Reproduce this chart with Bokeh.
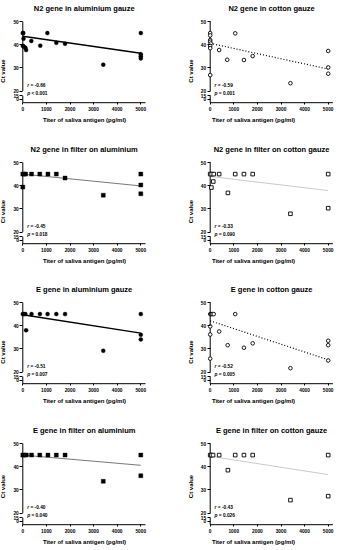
from bokeh.plotting import figure
from bokeh.layouts import column, row
from bokeh.models import FixedTicker
from bokeh.core.properties import value
from bokeh.embed import file_html
from bokeh.resources import INLINE

# ---------------- data ----------------
titles = [
    "N2 gene in aluminium gauze", "N2 gene in cotton gauze",
    "N2 gene in filter on aluminium", "N2 gene in filter on cotton gauze",
    "E gene in aluminium gauze", "E gene in cotton gauze",
    "E gene in filter on aluminium", "E gene in filter on cotton gauze",
]
r_values = ["-0.66", "-0.59", "-0.45", "-0.33", "-0.51", "-0.52", "-0.40", "-0.43"]
p_texts = ["< 0.001", "= 0.001", "= 0.018", "= 0.090", "= 0.007", "= 0.005", "= 0.040", "= 0.026"]

x_n2_alu = [0, 20, 0, 30, 40, 110, 140, 360, 740, 1040, 1420, 1790, 3410, 5000, 5000, 5000, 5000]
ct_n2_alu = [45, 45, 39.5, 42.6, 39.2, 38.7, 37.7, 41.6, 39.6, 45, 40.8, 40.4, 31.4, 45, 35.9, 35.0, 34.1]

x_n2_cot = [0, 0, 0, 0, 20, 0, 0, 0, 380, 720, 1060, 1430, 1800, 3400, 5000, 5000, 5000]
ct_n2_cot = [45, 44, 42, 41.3, 40.5, 39.5, 38.5, 26.9, 37.7, 33.5, 44.9, 33.4, 35.1, 23.4, 37.3, 30.2, 27.5]

x_n2_falu = [0, 60, 120, 0, 370, 720, 1065, 1420, 1790, 3410, 5000, 5000, 5000]
ct_n2_falu = [45, 45, 45, 39.4, 45, 45, 45, 45, 43.3, 35.9, 45, 40.3, 36.5]

x_n2_fcot = [0, 60, 150, 130, 50, 380, 750, 1060, 1430, 1800, 3400, 5000, 5000]
ct_n2_fcot = [45, 45, 45, 41.8, 39.2, 45, 36.9, 45, 45, 45, 27.9, 45, 30.3]

x_e_alu = [0, 40, 110, 140, 370, 725, 1050, 1420, 1790, 3410, 5000, 5000, 5000]
ct_e_alu = [45, 45, 45, 38.0, 45, 45, 45, 45, 45, 29.2, 45, 36.1, 34.1]

x_e_cot = [0, 40, 90, 150, 0, 0, 0, 380, 740, 1060, 1430, 1800, 3400, 5000, 5000, 5000]
ct_e_cot = [45, 45, 45, 45, 39.7, 36.2, 25.8, 37.5, 31.6, 45, 30.5, 32.4, 21.7, 33.5, 31.6, 25.0]

x_e_falu = [0, 60, 150, 370, 720, 1065, 1420, 1790, 3410, 5000, 5000]
ct_e_falu = [45, 45, 45, 45, 45, 45, 45, 45, 33.7, 45, 36.1]

x_e_fcot = [0, 50, 120, 380, 750, 1060, 1430, 1800, 3400, 5000, 5000]
ct_e_fcot = [45, 45, 45, 45, 38.5, 45, 45, 45, 25.6, 45, 27.3]

# regression lines (end points)
fit_x = [0, 5000]
fit_n2_alu = [43.6, 36.3]
fit_n2_cot = [40.6, 29.5]
fit_n2_falu = [45.0, 39.9]
fit_n2_fcot = [44.0, 37.9]
fit_e_alu = [44.7, 36.8]
fit_e_cot = [42.1, 25.3]
fit_e_falu = [45.0, 40.6]
fit_e_fcot = [44.5, 36.6]

x_ticks = [0, 1000, 2000, 3000, 4000, 5000]
x_axis_end = 5200
y_ticks = [0, 15, 20, 30, 40, 50]

panels = [
    (x_n2_alu, ct_n2_alu, fit_n2_alu),
    (x_n2_cot, ct_n2_cot, fit_n2_cot),
    (x_n2_falu, ct_n2_falu, fit_n2_falu),
    (x_n2_fcot, ct_n2_fcot, fit_n2_fcot),
    (x_e_alu, ct_e_alu, fit_e_alu),
    (x_e_cot, ct_e_cot, fit_e_cot),
    (x_e_falu, ct_e_falu, fit_e_falu),
    (x_e_fcot, ct_e_fcot, fit_e_fcot),
]

# ---------------- layout / styling ----------------
FONT = "Liberation Sans"
PX_PER_X = 0.0236     # px per titer unit
PX_PER_Y = 2.32       # px per Ct unit
TOP_50 = 21           # px from figure top to the "50" tick
# broken y axis: values >= 20 drawn as-is; 0..15 squeezed into a short stub
LOW_D0, LOW_D15 = 16.4, 18.0
X_AXIS_Y = 15.0       # where the x axis sits (display units)
TITLE_Y = 50 + 13.5 / PX_PER_Y
R_Y, P_Y = 22.3, 19.0

def disp(v):
    return v if v >= 20 else LOW_D0 + v / 15.0 * (LOW_D15 - LOW_D0)

# (marker, filled, line color, line width, dash)
styles = [
    ("circle", True, "#000000", 1.5, "solid"),
    ("circle", False, "#000000", 1.2, "1 2"),
    ("square", True, "#555555", 0.8, "solid"),
    ("square", False, "#bdbdbd", 0.8, "solid"),
]


def make_panel(i, width, height, axis_px):
    xs, ys, fit = panels[i]
    marker, filled, lcol, lw, dash = styles[i % 4]
    x0 = -axis_px / PX_PER_X
    x1 = (width - axis_px) / PX_PER_X
    y1 = 50 + TOP_50 / PX_PER_Y
    y0 = 50 - (height - TOP_50) / PX_PER_Y
    p = figure(width=width, height=height, output_backend="svg", toolbar_location=None,
               x_range=(x0, x1), y_range=(y0, y1),
               min_border_left=0, min_border_right=0, min_border_top=0, min_border_bottom=0)
    p.outline_line_color = None
    p.grid.visible = False
    p.background_fill_color = "white"
    p.border_fill_color = "white"

    xa = p.xaxis[0]
    xa.fixed_location = X_AXIS_Y
    xa.ticker = FixedTicker(ticks=x_ticks)
    xa.major_label_overrides = {v: str(v) for v in x_ticks}
    xa.axis_label = "Titer of saliva antigen (pg/ml)"
    xa.axis_label_text_font = FONT
    xa.axis_label_text_font_size = "6px"
    xa.axis_label_text_font_style = "bold"
    xa.axis_label_text_color = "black"
    xa.axis_label_standoff = 3
    xa.major_label_text_font = FONT
    xa.major_label_text_font_size = "4.8px"
    xa.major_label_text_font_style = "bold"
    xa.major_label_text_color = "black"
    xa.major_label_standoff = 2
    xa.major_tick_out = 2
    xa.major_tick_in = 0
    xa.minor_tick_out = 0
    xa.minor_tick_in = 0
    xa.axis_line_color = None
    xa.major_tick_line_color = "black"

    ya = p.yaxis[0]
    ya.fixed_location = 0
    ya.ticker = FixedTicker(ticks=[disp(v) for v in y_ticks])
    ya.major_label_overrides = {disp(v): str(v) for v in y_ticks}
    ya.axis_label = "Ct value"
    ya.axis_label_text_font = FONT
    ya.axis_label_text_font_size = "6px"
    ya.axis_label_text_font_style = "bold"
    ya.axis_label_text_color = "black"
    ya.axis_label_standoff = 4
    ya.major_label_text_font = FONT
    ya.major_label_text_font_size = "4.8px"
    ya.major_label_text_font_style = "bold"
    ya.major_label_text_color = "black"
    ya.major_label_standoff = 1
    ya.major_tick_out = 3
    ya.major_tick_in = 0
    ya.minor_tick_out = 0
    ya.minor_tick_in = 0
    ya.axis_line_color = None
    ya.major_tick_line_color = "black"

    # axis lines: broken y axis (two pieces) and the x axis
    p.segment(x0=[0, 0, 0], y0=[X_AXIS_Y, disp(y_ticks[2]), X_AXIS_Y],
              x1=[0, 0, x_axis_end], y1=[disp(y_ticks[1]), disp(y_ticks[-1]), X_AXIS_Y],
              line_color="black", line_width=1)

    # title
    p.text(x=[(x_ticks[0] + x_axis_end) / 2], y=[TITLE_Y], text=[titles[i]],
           text_font=value(FONT), text_font_size="7.5px", text_font_style="bold",
           text_color="black", text_align="center", text_baseline="middle")

    # regression line
    p.line(x=fit_x, y=fit, line_color=lcol, line_width=lw, line_dash=dash)

    # points
    if filled:
        p.scatter(x=xs, y=[disp(v) for v in ys], marker=marker, size=4.0,
                  fill_color="black", line_color="black", line_width=0.4)
    else:
        p.scatter(x=xs, y=[disp(v) for v in ys], marker=marker, size=3.6,
                  fill_color="white", line_color="black", line_width=0.9)

    # r / p annotations
    common = dict(text_font=value(FONT), text_font_size="4.8px", text_color="black",
                  text_baseline="middle", text_align="left")
    p.text(x=[0], y=[R_Y], text=["r"], x_offset=4.4, text_font_style="bold italic", **common)
    p.text(x=[0], y=[R_Y], text=["= " + r_values[i]], x_offset=7.6, text_font_style="bold", **common)
    p.text(x=[0], y=[P_Y], text=["p"], x_offset=4.4, text_font_style="bold italic", **common)
    p.text(x=[0], y=[P_Y], text=[p_texts[i]], x_offset=8.6, text_font_style="bold", **common)
    return p


row_heights = [141, 140, 141, 128]
rows = []
for r in range(4):
    left_fig = make_panel(2 * r, 168, row_heights[r], 22.3)
    right_fig = make_panel(2 * r + 1, 170, row_heights[r], 41.7)
    rows.append(row(left_fig, right_fig))

layout = column(*rows)

open("out.html", "w").write(file_html(layout, INLINE))
